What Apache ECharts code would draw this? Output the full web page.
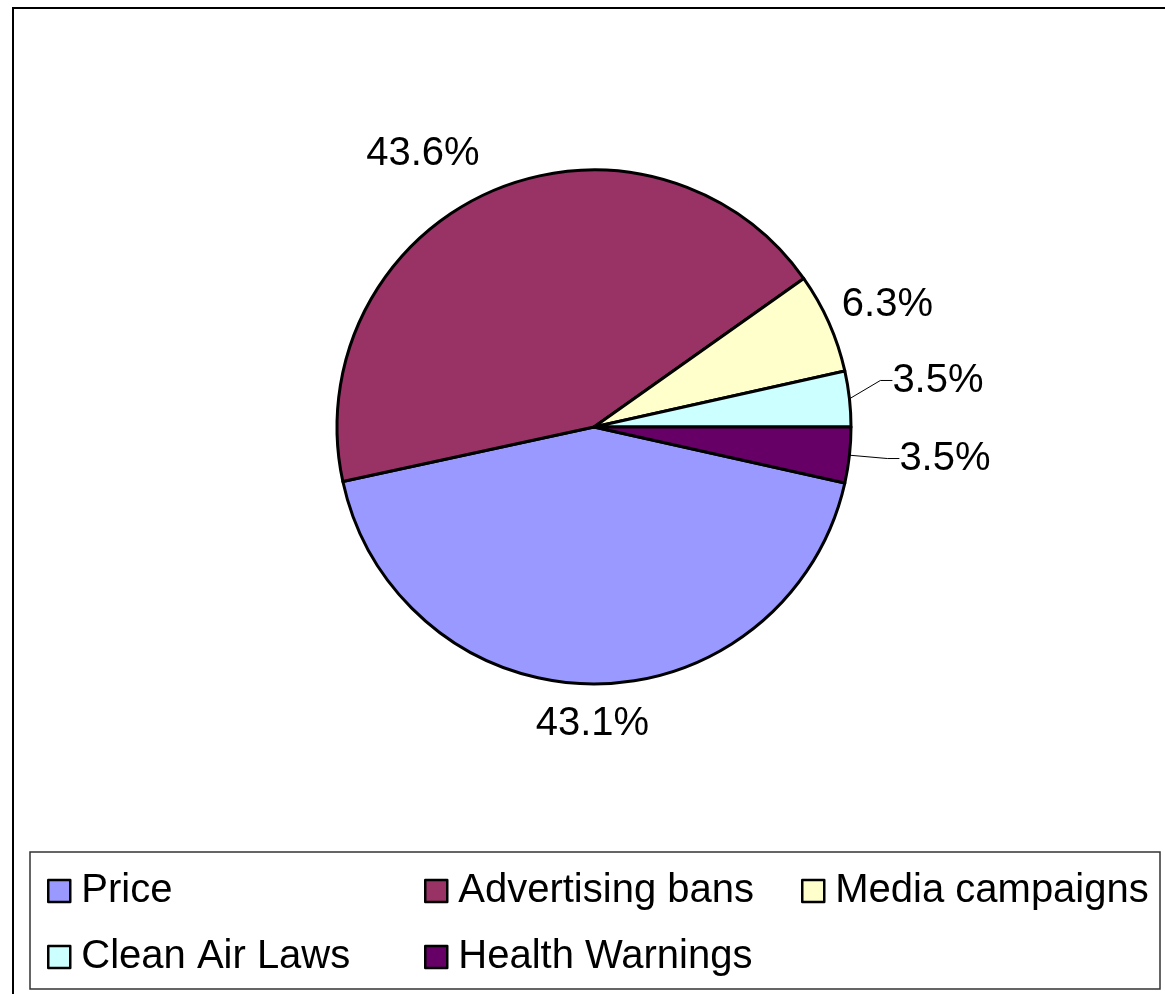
<!DOCTYPE html>
<html>
<head>
<meta charset="utf-8">
<script src="https://cdn.jsdelivr.net/npm/echarts@6/dist/echarts.min.js"></script>
<style>
  html, body { margin: 0; padding: 0; background: #fff; }
  #chart { width: 1165px; height: 994px; }
</style>
</head>
<body>
<div id="chart"></div>
<script>
// Tobacco-control measures: share of effect (%)
const categories = ['Price', 'Advertising bans', 'Media campaigns', 'Clean Air Laws', 'Health Warnings'];
const shares = [43.1, 43.6, 6.3, 3.5, 3.5];
const colors = ['#9999FF', '#993366', '#FFFFCC', '#CCFFFF', '#660066'];
// slices that get a leader line to their label
const withLeader = [false, false, false, true, true];
// small shifts of each percentage label away from its default outside spot
const labelNudge = [[73, 28], [11, -27], [-15, -13], [14, -17], [21, 2]];

const FONT = '"Liberation Sans", Arial, sans-serif';
const total = shares.reduce((a, b) => a + b, 0);
// the last slice starts at 3 o'clock and runs clockwise down, so the first one starts just below it
const startAngle = -(shares[shares.length - 1] / total) * 360;

const pieData = categories.map((name, i) => ({
  name,
  value: shares[i],
  itemStyle: { color: colors[i] },
  labelLine: { show: withLeader[i] }
}));

// one legend block per entry, laid out in three columns
const legendSlots = [
  { left: 42, top: 866 },
  { left: 419, top: 866 },
  { left: 796, top: 866 },
  { left: 42, top: 932 },
  { left: 419, top: 932 }
];
const legends = categories.map((name, i) => ({
  data: [name],
  left: legendSlots[i].left,
  top: legendSlots[i].top,
  icon: 'rect',
  itemWidth: 22,
  itemHeight: 22,
  itemStyle: { borderColor: '#000', borderWidth: 2.5 },
  textStyle: { fontFamily: FONT, fontSize: 40, color: '#000', padding: [0, 0, 6, 6] },
  selectedMode: false
}));

// move a label; labels with a leader are re-anchored so the line is redrawn to them
function placeLabel(p) {
  const [dx, dy] = labelNudge[p.dataIndex];
  if (!withLeader[p.dataIndex]) return { dx, dy };
  const r = p.labelRect;
  return {
    x: r.x + dx,
    y: r.y + r.height / 2 + dy,
    align: 'left',
    verticalAlign: 'middle'
  };
}

const chart = echarts.init(document.getElementById('chart'), null, { renderer: 'canvas' });
chart.setOption({
  backgroundColor: '#fff',
  animation: false,
  color: colors,
  legend: legends,
  graphic: [
    { type: 'rect', shape: { x: 13, y: 8, width: 1300, height: 1100 },
      style: { fill: 'none', stroke: '#000', lineWidth: 2 }, silent: true },
    { type: 'rect', shape: { x: 30, y: 852, width: 1130, height: 137 },
      style: { fill: 'none', stroke: '#333', lineWidth: 1.5 }, silent: true }
  ],
  series: [{
    type: 'pie',
    center: [594, 427],
    radius: 257,
    startAngle: startAngle,
    clockwise: true,
    avoidLabelOverlap: false,
    data: pieData,
    itemStyle: { borderColor: '#000', borderWidth: 3 },
    label: {
      show: true,
      position: 'outside',
      formatter: (p) => p.value.toFixed(1) + '%',
      fontFamily: FONT,
      fontSize: 40,
      color: '#000'
    },
    labelLine: {
      length: 12,
      length2: 12,
      lineStyle: { color: '#000', width: 1 }
    },
    labelLayout: placeLabel,
    emphasis: { disabled: true }
  }]
});
</script>
</body>
</html>
